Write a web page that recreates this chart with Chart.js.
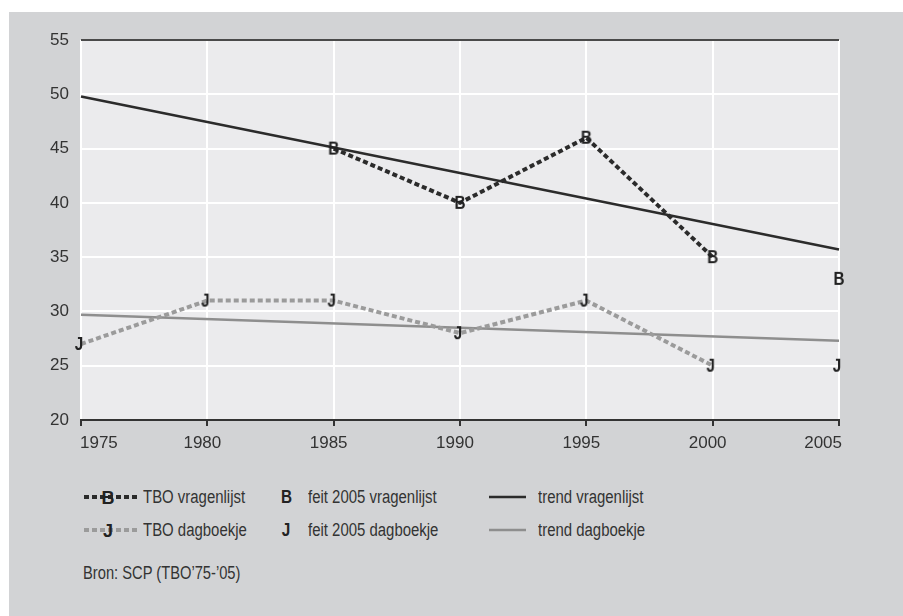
<!DOCTYPE html>
<html><head><meta charset="utf-8">
<script src="https://cdn.jsdelivr.net/npm/chart.js@4"></script>
<style>
body{margin:0;background:#fff;width:903px;height:616px;overflow:hidden;font-family:"Liberation Sans",Arial,sans-serif;color:#333;}
#box{position:absolute;left:9px;top:12px;width:894px;height:604px;background:#d2d3d5;}
#c{position:absolute;left:0;top:0;}
.lg{position:absolute;font-size:18px;line-height:20px;white-space:nowrap;color:#333;transform:scaleX(0.83);transform-origin:0 50%;}
.let{position:absolute;font-size:18px;line-height:20px;font-weight:bold;color:#222;transform:scaleX(0.85);transform-origin:50% 50%;}
svg{position:absolute;overflow:visible;}
</style></head>
<body>
<div id="box"></div>
<canvas id="c" width="903" height="470"></canvas>

<svg style="left:84px;top:487px" width="53" height="20"><line x1="0" y1="10" x2="53" y2="10" stroke="#2b2b2b" stroke-width="4" stroke-dasharray="5,3"/><text x="24" y="16.5" text-anchor="middle" font-family="Liberation Sans, sans-serif" font-weight="bold" font-size="18" fill="#222">B</text></svg>
<div class="lg" style="left:143px;top:487px">TBO vragenlijst</div>
<div class="let" style="left:280px;top:487px">B</div>
<div class="lg" style="left:308px;top:487px">feit 2005 vragenlijst</div>
<svg style="left:489px;top:487px" width="37" height="20"><line x1="0" y1="10" x2="37" y2="10" stroke="#2b2b2b" stroke-width="2.5"/></svg>
<div class="lg" style="left:538px;top:487px">trend vragenlijst</div>

<svg style="left:84px;top:520px" width="53" height="20"><line x1="0" y1="10" x2="53" y2="10" stroke="#9b9b9b" stroke-width="4" stroke-dasharray="5,3"/><text x="24" y="16.5" text-anchor="middle" font-family="Liberation Sans, sans-serif" font-weight="bold" font-size="18" fill="#222">J</text></svg>
<div class="lg" style="left:143px;top:520px">TBO dagboekje</div>
<div class="let" style="left:281px;top:520px">J</div>
<div class="lg" style="left:308px;top:520px">feit 2005 dagboekje</div>
<svg style="left:489px;top:520px" width="37" height="20"><line x1="0" y1="10" x2="37" y2="10" stroke="#8e8e8e" stroke-width="2.5"/></svg>
<div class="lg" style="left:538px;top:520px">trend dagboekje</div>

<div class="lg" style="left:83px;top:563px;font-size:17.5px;transform:scaleX(0.84)">Bron: SCP (TBO’75-’05)</div>

<script>
const years = ['1975','1980','1985','1990','1995','2000','2005'];
const tboVragenlijst = [null, null, 45, 40, 46, 35, null];
const feitVragenlijst = [null, null, null, null, null, null, 33];
const trendVragenlijst = [49.8, null, null, null, null, null, 35.7];
const tboDagboekje = [27, 31, 31, 28, 31, 25, null];
const feitDagboekje = [null, null, null, null, null, null, 25];
const trendDagboekje = [29.7, null, null, null, null, null, 27.3];
const yTicks = [20, 25, 30, 35, 40, 45, 50, 55];

function letter(ch, dx){
  const c=document.createElement('canvas');c.width=20;c.height=22;
  const x=c.getContext('2d');
  x.font='bold 18px "Liberation Sans",sans-serif';
  x.fillStyle='#222';x.textAlign='center';x.textBaseline='middle';
  x.translate(10+dx,12);x.scale(0.85,1);
  x.fillText(ch,0,0);return c;
}
const B=letter('B',0), J=letter('J',-2);

const bgPlugin={id:'bg',beforeDraw(ch){const a=ch.chartArea,c=ch.ctx;c.save();c.fillStyle='#ebebed';c.fillRect(a.left,a.top,a.right-a.left,a.bottom-a.top);c.restore();}};
const xLabels={id:'xl',afterDraw(ch){const s=ch.scales.x,c=ch.ctx;c.save();c.font='17px "Liberation Sans",Arial,sans-serif';c.fillStyle='#333';c.textBaseline='alphabetic';
  years.forEach((y,i)=>{const px=s.getPixelForValue(i);c.textAlign=i===0?'left':(i===years.length-1?'right':'center');c.fillText(y,i===0?px-1:(i===years.length-1?px+3:px-5),448);});c.restore();}};

new Chart(document.getElementById('c'),{
  type:'line',
  data:{labels:years,datasets:[
    {data:tboVragenlijst,borderColor:'#2b2b2b',borderWidth:4,borderDash:[5,3],pointStyle:B,pointRadius:8,spanGaps:false,fill:false},
    {data:feitVragenlijst,showLine:false,pointStyle:B,pointRadius:8},
    {data:tboDagboekje,borderColor:'#9b9b9b',borderWidth:4,borderDash:[5,3],pointStyle:J,pointRadius:8,fill:false},
    {data:feitDagboekje,showLine:false,pointStyle:J,pointRadius:8},
    {data:trendVragenlijst,borderColor:'#2b2b2b',borderWidth:2.5,pointRadius:0,spanGaps:true},
    {data:trendDagboekje,borderColor:'#8e8e8e',borderWidth:2.5,pointRadius:0,spanGaps:true}
  ]},
  options:{
    responsive:false,animation:false,
    layout:{padding:{left:0,top:40,right:64,bottom:0}},
    plugins:{legend:{display:false},tooltip:{enabled:false}},
    scales:{
      x:{type:'category',offset:false,
        afterFit(s){s.height=50;},
        grid:{color:'#ffffff',lineWidth:2,tickColor:'#333',tickLength:6,tickWidth:2},
        border:{display:true,color:'#333',width:2},
        ticks:{display:false}},
      y:{min:20,max:55,
        afterFit(s){s.width=81;},
        afterBuildTicks(s){s.ticks=yTicks.map(v=>({value:v}));},
        grid:{drawTicks:false,lineWidth:2,color:c=>c.tick&&c.tick.value===55?'#4a4a4a':(c.tick&&c.tick.value===20?'#333':'#ffffff')},
        border:{display:false},
        ticks:{padding:12,color:'#333',font:{family:'"Liberation Sans",Arial,sans-serif',size:17}}}
    }
  },
  plugins:[bgPlugin,xLabels]
});
</script>
</body></html>
